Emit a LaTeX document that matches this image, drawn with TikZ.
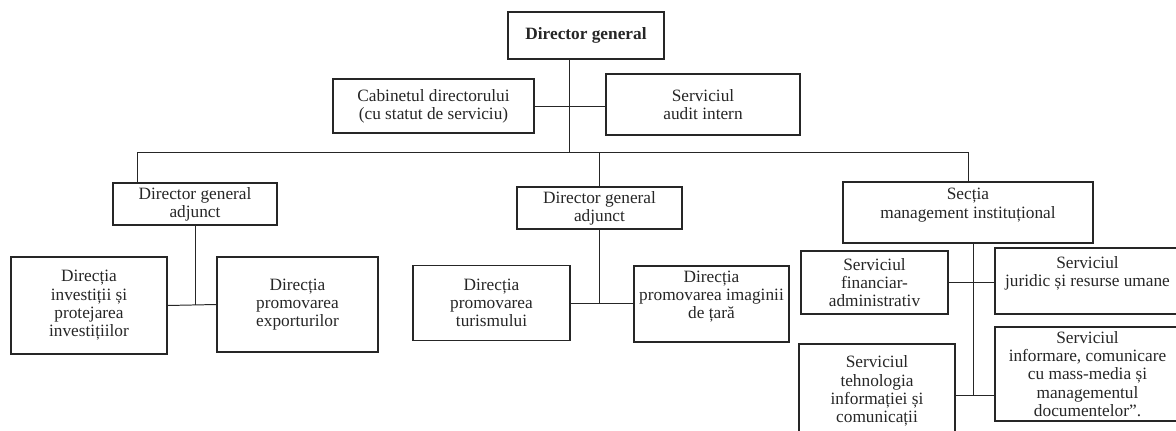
\documentclass[tikz,border=0pt]{standalone}
\usepackage{fontspec}
\setmainfont{Liberation Serif}
\usetikzlibrary{positioning}
\tikzset{
  box/.style={draw, line width=0.8pt, align=center, inner sep=1pt,
    font=\fontsize{12.3}{13}\selectfont},
  link/.style={line width=0.7pt}
}
\colorlet{penColor}{black!85}

\begin{document}
\begin{tikzpicture}[x=0.025cm,y=-0.025cm,penColor]
				\clip (0,0) rectangle (1176,431);
				%top level
				\node [box, minimum width=3.9cm, minimum height=1.175cm] (dg) at (586,35.5) {\textbf{Director general}};
				\node [box, minimum width=5.025cm, minimum height=1.35cm] (cab) at (433.5,106) {Cabinetul directorului\\(cu statut de serviciu)};
				\node [box, minimum width=4.85cm, minimum height=1.525cm] (audit) at (703,104.5) {Serviciul\\audit intern};
				%second level
				\node [box, minimum width=4.1cm, minimum height=1.05cm] (dgaA) at (195,204) {Director general\\adjunct};
				\node [box, minimum width=4.125cm, minimum height=1.05cm] (dgaB) at (599.5,208) {Director general\\adjunct};
				\node [box, minimum width=6.25cm, minimum height=1.525cm] (sectia) at (968,212.5) {Secția\\management instituțional\\ \mbox{}};
				%directions
				\node [box, minimum width=3.9cm, minimum height=2.425cm] (invest) at (89,305.5) {Direcția\\investiții și\\protejarea\\investițiilor};
				\node [box, minimum width=4.025cm, minimum height=2.375cm] (export) at (297.5,304.5) {Direcția\\promovarea\\exporturilor};
				\node [box, minimum width=3.925cm, minimum height=1.875cm] (turism) at (491.5,303) {Direcția\\promovarea\\turismului};
				\node [box, minimum width=3.875cm, minimum height=1.9cm] (imagine) at (711.5,304) {Direcția\\promovarea imaginii\\de țară\\ \mbox{}};
				%services
				\node [box, minimum width=3.675cm, minimum height=1.575cm] (fin) at (874.5,282.5) {Serviciul\\financiar-\\administrativ};
				\node [box, minimum width=4.625cm, minimum height=1.65cm] (jur) at (1087.5,281) {Serviciul\\juridic și resurse umane\\ \mbox{}};
				\node [box, minimum width=3.9cm, minimum height=2.35cm] (teh) at (877,391) {Serviciul\\tehnologia\\informației și\\comunicații};
				\node [box, minimum width=4.625cm, minimum height=2.35cm] (inf) at (1087.5,374) {Serviciul\\informare, comunicare\\cu mass-media și\\managementul\\documentelor”.};
				%connectors
				\coordinate (trunk) at (569,152);
				\coordinate (busL) at (137,152);
				\coordinate (sB) at (973,395);
				\draw [link] (dg.south -| trunk) -- (trunk);
				\draw [link] (cab.east) -- (cab.east -| audit.west);
				\draw [link] (dgaA.north -| busL) -- (busL) -- (busL -| sectia.north) -- (sectia.north);
				\draw [link] (dgaB.north) -- (dgaB.north |- busL);
				\draw [link] (dgaA.south) -- (dgaA.south |- invest.east);
				\draw [link] (invest.east) -- (export.west);
				\draw [link] (dgaB.south) -- (dgaB.south |- turism.east);
				\draw [link] (turism.east) -- (turism.east -| imagine.west);
				\draw [link] (sectia.south -| sB) -- (sB);
				\draw [link] (fin.east) -- (fin.east -| jur.west);
				\draw [link] (teh.east |- sB) -- (sB -| inf.west);
\end{tikzpicture}
\end{document}
